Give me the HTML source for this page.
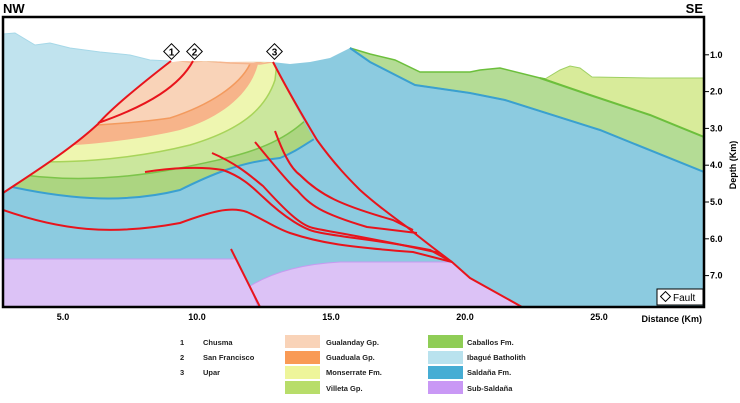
<!DOCTYPE html>
<html><head><meta charset="utf-8">
<style>
body{margin:0;background:#fff;width:740px;height:403px;overflow:hidden;font-family:"Liberation Sans",sans-serif}
svg{display:block}
text{font-family:"Liberation Sans",sans-serif}
</style></head>
<body>
<svg width="740" height="403" viewBox="0 0 740 403">
<defs>
<clipPath id="plot"><rect x="3" y="17" width="701" height="290"/></clipPath>
<clipPath id="syn"><path d="M171,61 C140,85 110,110 98,124 C70,150 30,175 3,193 L3,307 L240,307 L240,180 L300,160 L320,150 C305,125 290,95 272,62 Z"/></clipPath>
</defs>
<g clip-path="url(#plot)">
<rect x="3" y="17" width="701" height="290" fill="#fff"/>
<!-- Saldana base -->
<path d="M3,180 L3,307 L704,307 L704,172 L600,130 L505,100 L470,93 L415,85 L370,62 L350,48 L330,58 L310,62 L290,64 L272,62 L171,61 Z" fill="#8ccbe0"/>
<!-- right green Caballos -->
<path d="M350,48 L370,54 L395,60 L420,72 L450,72 L470,72 L480,70 L500,68 L540,78 L600,88 L704,106 L704,172 L600,130 L505,100 L470,93 L415,85 L370,62 Z" fill="#b4dc95" stroke="#6cbf3c" stroke-width="1.5"/>
<path d="M350,48 L370,62 L415,85 L470,93 L505,100 L600,130 L704,172" fill="none" stroke="#3aa0d0" stroke-width="2"/>
<path d="M545,79 L560,70 L570,66 L580,68 L592,77 L650,78 L704,78 L704,137 L650,115 L590,95 Z" fill="#d8eb9a" stroke="#9fd063" stroke-width="1"/>
<path d="M540,78 L590,95 L650,115 L704,137" fill="none" stroke="#6cbf3c" stroke-width="2"/>
<!-- Ibague batholith -->
<path d="M3,34 L15,33 L35,45 L50,43 L70,48 L100,52 L130,55 L150,60 L171,61 C140,85 110,110 98,124 C70,150 30,175 3,193 Z" fill="#c0e3ee" stroke="#a6d8e8" stroke-width="1"/>
<!-- syncline layers -->
<g clip-path="url(#syn)">
<path d="M3,185 C60,198 120,205 180,190 C210,175 240,162 280,158 C300,150 310,140 330,130 L330,40 L3,40 Z" fill="#acd581"/>
<path d="M3,185 C60,198 120,205 180,190 C210,175 240,162 280,158 C300,150 310,140 330,130" fill="none" stroke="#3aa0d0" stroke-width="2"/>
<path d="M3,172 C60,182 120,180 180,168 C230,158 270,150 300,125 L330,100 L330,40 L3,40 Z" fill="#cbe79d"/>
<path d="M3,172 C60,182 120,180 180,168 C230,158 270,150 300,125 L330,100" fill="none" stroke="#7cc44a" stroke-width="1.5"/>
<path d="M3,160 C60,165 130,160 190,145 C240,130 265,110 275,80 L277,62 L330,40 L3,40 Z" fill="#eef6b0"/>
<path d="M3,160 C60,165 130,160 190,145 C240,130 265,110 275,80 L277,62" fill="none" stroke="#a8d45a" stroke-width="1.5"/>
<path d="M3,148 C60,148 130,142 180,130 C220,118 250,95 258,64 L330,40 L3,40 Z" fill="#f7b48a"/>
<path d="M3,128 C60,128 130,124 170,118 C210,105 240,85 250,64 L330,40 L3,40 Z" fill="#f9d3b8"/>
<path d="M3,128 C60,128 130,124 170,118 C210,105 240,85 250,64" fill="none" stroke="#f39a5e" stroke-width="1.5"/>
<rect x="3" y="17" width="340" height="45" fill="#fff"/>
<path d="M171,60 L190,62 L205,61 L230,63 L260,64 L272,62" fill="none" stroke="#f5b58e" stroke-width="1.5"/>
</g>
<!-- Sub-Saldana -->
<path d="M3,259 L236,259 L250,286 L258,307 L3,307 Z" fill="#dcc2f6" stroke="#c79af0" stroke-width="1"/>
<path d="M250,286 Q285,265 340,262 L452,262 L470,278 L522,307 L258,307 Z" fill="#dcc2f6" stroke="#c79af0" stroke-width="1"/>
<!-- faults -->
<g fill="none" stroke="#e8141c" stroke-width="2">
<path d="M171,61 C140,85 110,110 98,124 C70,150 30,175 3,193"/>
<path d="M193,61 C180,85 150,105 98,123"/>
<path d="M273,62 C290,95 305,120 317,140 C335,165 350,180 360,190 C380,208 395,218 407,227 C425,242 440,253 452,262 L470,278 L522,307"/>
<path d="M275,131 C282,150 290,168 300,175 C320,195 340,205 393,220 L413,230"/>
<path d="M255,142 C270,160 290,185 297,190 C310,205 320,213 367,227 L417,233"/>
<path d="M212,153 C240,165 255,180 263,186 C285,210 300,225 313,228 C330,232 347,233 440,253"/>
<path d="M145,172 C170,168 200,166 223,170 C245,178 255,190 263,197 C285,218 305,230 317,232 C345,238 380,240 430,250 L452,262"/>
<path d="M3,210 C60,230 110,236 180,223 C210,212 230,206 247,212 C265,220 275,228 290,233 C320,243 347,247 413,252 L452,262"/>
<path d="M231,249 L260,307"/>
</g>
<!-- fault legend -->
<rect x="657" y="289" width="46" height="16" fill="#fff" stroke="#000" stroke-width="1"/>
<rect x="662" y="293" width="7" height="7" fill="#fff" stroke="#000" transform="rotate(45 665.5 296.5)"/>
<text x="673" y="301" font-size="10" fill="#000">Fault</text>
</g>
<!-- fault markers -->
<g font-size="10" font-weight="bold" text-anchor="middle">
<rect x="166" y="46" width="11" height="11" fill="#fff" stroke="#000" transform="rotate(45 171.5 51.5)"/><text x="171.5" y="55.5">1</text>
<rect x="189" y="46" width="11" height="11" fill="#fff" stroke="#000" transform="rotate(45 194.5 51.5)"/><text x="194.5" y="55.5">2</text>
<rect x="269" y="46" width="11" height="11" fill="#fff" stroke="#000" transform="rotate(45 274.5 51.5)"/><text x="274.5" y="55.5">3</text>
</g>
<rect x="3" y="17" width="701" height="290" fill="none" stroke="#000" stroke-width="2.5"/>
<text x="3" y="13" font-size="13" font-weight="bold">NW</text>
<text x="703" y="13" font-size="13" font-weight="bold" text-anchor="end">SE</text>
<g id="xaxis" font-size="9" font-weight="bold" text-anchor="middle"></g>
<g id="yaxis" font-size="9" font-weight="bold"></g>
<text x="702" y="322" font-size="9" font-weight="bold" text-anchor="end">Distance (Km)</text>
<text x="736" y="165" font-size="9" font-weight="bold" text-anchor="middle" transform="rotate(-90 736 165)">Depth (Km)</text>
<!-- legend -->
<g font-size="7.5" font-weight="bold" fill="#222">
<text x="180" y="345">1</text><text x="203" y="345">Chusma</text>
<text x="180" y="360">2</text><text x="203" y="360">San Francisco</text>
<text x="180" y="375">3</text><text x="203" y="375">Upar</text>
<rect x="285" y="335" width="35" height="13" fill="#f9d3b8"/><text x="326" y="345">Gualanday Gp.</text>
<rect x="285" y="351" width="35" height="13" fill="#f99a55"/><text x="326" y="360">Guaduala Gp.</text>
<rect x="285" y="366" width="35" height="13" fill="#eef59a"/><text x="326" y="375">Monserrate Fm.</text>
<rect x="285" y="381" width="35" height="13" fill="#b8dd6a"/><text x="326" y="391">Villeta Gp.</text>
<rect x="428" y="335" width="35" height="13" fill="#8fcd56"/><text x="467" y="345">Caballos Fm.</text>
<rect x="428" y="351" width="35" height="13" fill="#b9e2ee"/><text x="467" y="360">Ibagué Batholith</text>
<rect x="428" y="366" width="35" height="13" fill="#46add4"/><text x="467" y="375">Saldaña Fm.</text>
<rect x="428" y="381" width="35" height="13" fill="#c998f5"/><text x="467" y="391">Sub-Saldaña</text>
</g>
</svg>
<script>
const xTicks=[5,10,15,20,25];
const yTicks=[1,2,3,4,5,6,7];
const xs=k=>-71+26.8*k, ys=d=>18+36.8*d;
const NS='http://www.w3.org/2000/svg';
const gx=document.getElementById('xaxis'), gy=document.getElementById('yaxis');
xTicks.forEach(v=>{const t=document.createElementNS(NS,'text');


t.setAttribute('x',xs(v));t.setAttribute('y',320);t.textContent=v.toFixed(1);gx.appendChild(t);});
yTicks.forEach(v=>{const l=document.createElementNS(NS,'line');


l.setAttribute('x1',704);l.setAttribute('x2',709);l.setAttribute('y1',ys(v));l.setAttribute('y2',ys(v));l.setAttribute('stroke','#000');gy.appendChild(l);
const t=document.createElementNS(NS,'text');


t.setAttribute('x',710);t.setAttribute('y',ys(v)+3);t.textContent=v.toFixed(1);gy.appendChild(t);});
</script>
</body></html>
